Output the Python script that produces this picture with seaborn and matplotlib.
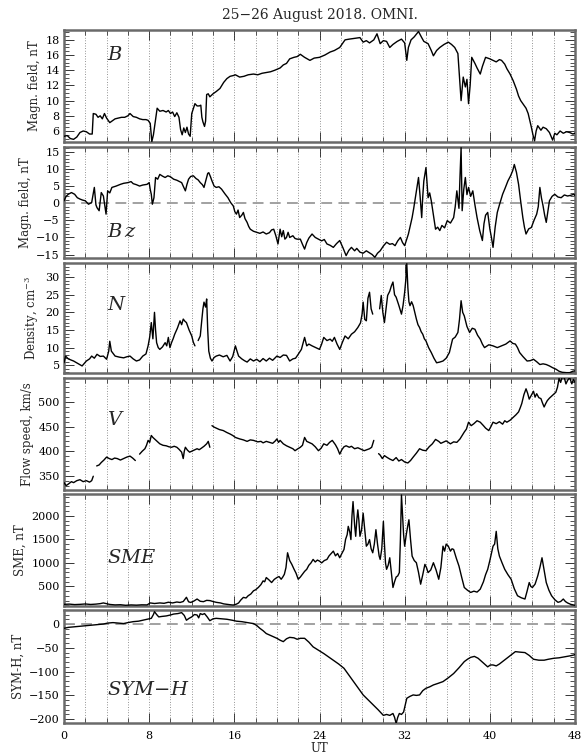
import numpy as np
import pandas as pd
import matplotlib
matplotlib.use("Agg")
import matplotlib.pyplot as plt
import seaborn as sns
from matplotlib.ticker import MultipleLocator

nan = np.nan

# ---------------- data ----------------
b_t = [0.0,0.3,0.6,0.9,1.2,1.5,1.8,2.1,2.4,2.65,2.75,3.0,3.2,3.4,3.6,3.8,4.0,4.3,4.5,4.8,5.1,5.4,5.7,6.0,6.2,6.5,6.8,7.1,7.4,7.7,7.9,8.1,8.25,8.4,8.6,8.75,9.0,9.3,9.6,9.8,10.0,10.2,10.4,10.6,10.8,10.95,11.1,11.25,11.4,11.55,11.7,11.85,12.0,12.3,12.5,12.7,12.85,12.95,13.05,13.2,13.3,13.4,13.55,13.7,14.0,14.3,14.65,15.0,15.3,15.6,15.9,16.1,16.5,16.9,17.3,17.8,18.2,18.6,19.0,19.4,19.8,20.3,20.6,20.9,21.2,21.6,21.9,22.2,22.6,23.1,23.5,24.0,24.5,25.0,25.4,25.9,26.4,26.8,27.3,27.8,28.1,28.4,28.7,29.1,29.4,29.7,30.0,30.3,30.6,30.9,31.3,31.7,32.0,32.2,32.35,32.6,32.9,33.3,33.6,33.8,34.2,34.5,34.7,35.0,35.3,35.7,36.1,36.4,36.7,37.0,37.15,37.3,37.5,37.7,37.85,38.0,38.15,38.3,38.6,38.8,39.1,39.3,39.6,40.0,40.3,40.6,40.9,41.1,41.4,41.6,41.9,42.2,42.5,42.7,42.9,43.1,43.4,43.6,43.9,44.05,44.2,44.35,44.5,44.8,45.0,45.3,45.6,45.9,46.1,46.3,46.6,46.9,47.2,47.5,47.8,48.0]
b_v = [5.3,5.4,5.0,4.9,5.2,5.8,6.0,5.9,5.6,5.6,8.3,8.2,7.8,8.0,7.6,8.3,7.7,7.1,7.3,7.6,7.7,7.8,7.8,8.0,8.3,7.9,7.8,7.6,7.5,7.5,7.4,7.0,4.6,5.5,7.5,9.0,8.6,8.7,8.5,8.7,8.3,8.5,7.9,8.4,7.8,6.2,5.5,6.4,5.8,6.5,5.6,5.3,8.3,9.6,9.3,9.3,9.4,7.8,7.2,6.6,7.3,10.8,10.9,10.5,10.9,11.2,11.6,12.4,12.9,13.2,13.3,13.4,13.1,13.2,13.4,13.5,13.4,13.6,13.7,13.8,14.0,14.3,14.7,14.9,15.5,15.7,15.8,16.1,15.7,15.3,15.6,15.7,16.0,16.4,16.6,17.0,18.0,18.1,18.2,18.3,17.7,17.9,17.6,18.0,18.8,17.5,17.9,17.8,17.0,17.4,17.8,18.1,17.6,15.3,17.0,18.0,18.4,19.1,18.3,17.8,17.5,16.6,15.9,16.6,17.0,17.4,17.7,17.4,17.0,16.2,13.0,10.0,13.1,11.8,12.8,9.6,12.0,15.7,14.9,14.3,13.5,14.5,15.7,15.5,15.3,15.1,15.4,15.3,14.8,14.2,13.5,12.6,11.5,10.6,10.0,9.6,9.0,8.3,6.5,5.5,4.7,6.0,6.7,6.1,6.5,6.3,5.8,4.8,5.7,5.5,6.0,5.7,5.9,5.8,5.6,5.7]

bz_t = [0.0,0.2,0.4,0.7,1.0,1.25,1.5,1.75,2.0,2.3,2.6,2.85,3.0,3.1,3.3,3.5,3.7,3.85,3.95,4.1,4.3,4.5,4.9,5.3,5.6,6.0,6.3,6.5,6.8,7.1,7.4,7.8,8.0,8.1,8.2,8.3,8.45,8.6,8.8,9.0,9.25,9.5,9.75,10.0,10.3,10.6,10.8,11.05,11.2,11.4,11.55,11.7,11.9,12.15,12.4,12.6,12.8,13.0,13.15,13.35,13.5,13.6,13.75,13.9,14.1,14.3,14.55,14.8,15.1,15.4,15.65,15.9,16.05,16.2,16.35,16.5,16.7,16.85,17.0,17.2,17.35,17.5,17.8,18.1,18.4,18.7,19.0,19.3,19.5,19.7,19.9,20.1,20.3,20.45,20.6,20.75,20.9,21.05,21.2,21.5,21.7,21.9,22.2,22.4,22.6,22.8,23.0,23.3,23.6,23.9,24.2,24.45,24.7,25.0,25.3,25.6,25.9,26.2,26.5,26.75,27.0,27.3,27.5,27.8,28.1,28.4,28.7,28.95,29.2,29.45,29.7,30.0,30.3,30.6,30.85,31.1,31.35,31.6,31.8,32.0,32.2,32.35,32.5,32.7,32.85,33.0,33.15,33.3,33.45,33.6,33.7,33.8,33.9,34.0,34.1,34.2,34.35,34.5,34.7,34.9,35.1,35.3,35.5,35.75,36.0,36.3,36.6,36.75,36.9,37.1,37.2,37.3,37.4,37.55,37.7,37.85,38.0,38.2,38.4,38.6,38.8,39.05,39.3,39.45,39.6,39.8,40.0,40.15,40.3,40.5,40.7,40.9,41.2,41.45,41.7,41.95,42.15,42.3,42.5,42.7,42.9,43.1,43.25,43.4,43.65,43.9,44.15,44.4,44.55,44.7,44.85,45.0,45.15,45.3,45.45,45.6,45.85,46.1,46.4,46.7,47.0,47.3,47.6,47.9,48.0]
bz_v = [0.7,2.0,2.6,3.1,2.6,1.6,1.2,0.9,0.7,-0.3,0.2,4.6,-0.5,-1.3,-2.2,3.1,2.1,-1.0,-3.2,3.6,3.0,4.6,5.0,5.5,5.8,6.0,6.3,5.7,5.4,5.0,5.3,5.5,6.0,4.0,2.6,-0.3,1.6,7.5,7.0,8.4,7.9,7.5,8.0,7.7,7.0,6.7,6.4,6.0,5.0,3.6,5.5,7.0,7.8,8.0,7.2,6.8,6.0,5.4,4.6,7.0,8.7,8.9,7.8,6.5,5.0,4.6,4.8,4.1,2.8,1.6,0.2,-0.8,-2.5,-3.2,-2.0,-4.2,-3.5,-2.7,-4.5,-5.6,-6.8,-7.6,-8.2,-8.5,-8.8,-8.4,-9.0,-8.6,-7.8,-7.6,-9.5,-11.9,-7.6,-9.8,-8.0,-10.5,-10.0,-8.5,-10.0,-9.5,-10.3,-10.5,-10.5,-12.0,-13.4,-11.5,-10.2,-9.0,-10.0,-10.5,-11.0,-10.6,-11.9,-12.3,-12.9,-11.8,-10.9,-13.0,-15.3,-13.8,-12.9,-13.9,-13.2,-14.3,-14.6,-13.9,-14.5,-15.0,-15.8,-14.6,-13.9,-12.5,-11.4,-12.0,-11.8,-12.4,-11.0,-10.0,-11.5,-12.4,-10.5,-9.0,-7.0,-4.2,-1.5,1.6,4.5,7.5,2.0,-4.2,2.0,6.5,8.5,10.4,6.0,1.6,3.0,0.7,-3.5,-7.6,-7.0,-8.0,-6.5,-7.2,-5.1,-5.8,-4.2,-1.0,3.6,-1.5,8.0,16.2,-2.2,4.0,7.5,2.5,4.6,2.0,3.6,-0.5,-4.2,-8.0,-10.9,-6.0,-3.5,-2.7,-7.5,-10.0,-12.9,-7.0,-2.7,-0.5,2.6,4.5,6.5,8.0,9.5,11.3,9.0,5.5,0.5,-4.2,-7.0,-9.0,-7.5,-7.1,-5.0,-3.2,-1.0,4.6,1.5,-0.8,-3.5,-5.6,-2.5,0.7,2.0,2.6,1.8,1.6,2.4,2.1,2.3,2.6,2.2]

n_t = [0.0,0.15,0.4,0.9,1.3,1.7,2.1,2.4,2.6,2.85,3.1,3.4,3.7,4.0,4.2,4.3,4.45,4.8,5.2,5.6,5.9,6.2,6.5,6.8,7.1,7.4,7.7,7.9,8.05,8.2,8.35,8.5,8.6,8.7,8.85,9.0,9.25,9.5,9.65,9.8,9.95,10.1,10.25,10.4,10.65,10.9,11.05,11.2,11.35,11.5,11.75,12.0,12.15,12.3,12.45,12.6,12.8,12.95,13.05,13.15,13.3,13.4,13.5,13.6,13.75,13.9,14.1,14.3,14.6,14.95,15.3,15.6,15.85,16.1,16.25,16.4,16.7,16.95,17.2,17.5,17.8,18.1,18.4,18.7,19.0,19.3,19.6,20.0,20.3,20.6,20.9,21.2,21.5,21.75,22.0,22.3,22.6,22.8,23.0,23.3,23.65,24.0,24.2,24.4,24.7,25.0,25.2,25.4,25.65,25.9,26.15,26.4,26.7,27.0,27.3,27.6,27.85,28.0,28.1,28.25,28.4,28.55,28.7,28.85,29.0,29.3,29.65,29.8,29.95,30.1,30.25,30.4,30.6,30.75,30.9,31.05,31.2,31.45,31.7,31.85,32.0,32.1,32.2,32.3,32.4,32.5,32.65,32.8,32.95,33.1,33.25,33.4,33.55,33.7,33.85,34.0,34.25,34.5,34.75,35.0,35.3,35.6,35.9,36.2,36.35,36.5,36.75,37.0,37.15,37.3,37.45,37.6,37.85,38.1,38.35,38.6,38.85,39.1,39.3,39.5,39.9,40.3,40.7,41.1,41.5,41.9,42.15,42.4,42.6,42.8,43.1,43.5,43.8,44.1,44.4,44.7,45.0,45.3,45.6,45.9,46.2,46.5,46.8,47.2,47.5,47.8,48.0]
n_v = [5.7,7.6,6.8,6.2,5.5,4.8,6.2,6.8,7.6,7.0,8.1,7.5,7.6,6.7,9.0,11.8,9.0,7.6,7.3,7.1,7.4,7.6,6.8,6.2,6.5,7.6,8.2,10.5,13.0,17.1,12.5,20.0,15.0,11.4,10.0,9.5,10.2,11.4,10.5,12.9,10.0,11.4,12.5,13.8,15.5,17.6,16.5,18.1,17.5,17.1,15.0,13.3,11.5,10.5,nan,12.0,13.3,18.0,21.0,22.9,21.5,23.8,15.0,9.0,7.0,6.2,7.2,7.6,7.9,7.4,7.8,6.2,7.5,10.5,9.0,7.6,6.8,6.3,5.9,6.8,6.2,6.7,6.0,6.9,6.2,7.0,6.4,7.6,7.2,7.9,7.8,6.2,6.8,7.0,8.1,9.5,12.9,10.5,11.0,10.5,10.0,9.5,11.0,12.9,12.0,12.4,11.8,12.9,11.0,9.5,11.5,13.3,12.5,13.8,14.5,15.7,17.0,19.5,22.9,18.0,17.6,24.0,25.7,21.0,19.5,nan,21.0,24.8,20.0,17.1,21.0,24.8,26.0,27.5,28.6,25.0,24.3,22.0,19.5,22.0,25.7,29.0,33.8,27.0,23.0,21.9,23.0,21.9,20.0,18.1,16.5,15.7,14.5,13.8,12.5,11.9,10.0,8.6,7.0,5.7,5.9,6.2,7.0,8.6,10.5,12.4,13.0,14.3,18.0,23.3,20.0,19.0,16.0,14.3,15.5,15.2,13.5,12.4,11.0,10.0,10.8,10.5,10.0,10.5,11.0,11.9,11.2,11.0,10.0,8.6,7.5,6.2,6.3,6.7,6.0,5.2,5.4,5.2,4.8,4.3,3.9,3.3,3.0,2.9,2.9,3.3,3.4]

v_t = [0.0,0.2,0.4,0.7,0.9,1.2,1.5,1.8,2.1,2.4,2.6,2.75,2.9,3.07,3.3,3.5,3.75,4.0,4.25,4.5,4.75,5.0,5.3,5.6,5.9,6.2,6.45,6.7,6.9,7.1,7.35,7.6,7.75,7.9,8.05,8.2,8.35,8.5,8.75,9.0,9.3,9.6,9.85,10.1,10.35,10.6,10.8,11.05,11.2,11.3,11.4,11.6,11.8,12.1,12.5,12.7,12.9,13.15,13.4,13.55,13.7,13.8,13.9,14.1,14.3,14.6,14.96,15.3,15.6,15.85,16.1,16.5,16.85,17.2,17.5,17.8,18.2,18.5,18.7,19.0,19.3,19.6,19.85,20.0,20.15,20.3,20.6,20.9,21.2,21.5,21.7,21.9,22.2,22.4,22.6,22.8,23.0,23.3,23.6,23.9,24.15,24.4,24.7,24.95,25.2,25.5,25.7,25.9,26.1,26.3,26.5,26.8,27.0,27.3,27.6,27.9,28.2,28.45,28.7,28.9,29.1,29.3,29.55,29.7,29.9,30.1,30.3,30.6,30.9,31.2,31.45,31.7,32.0,32.3,32.55,32.8,33.1,33.4,33.7,34.0,34.3,34.6,34.9,35.2,35.4,35.6,35.9,36.3,36.6,36.9,37.2,37.4,37.6,37.8,38.0,38.25,38.5,38.8,39.1,39.4,39.6,39.9,40.1,40.3,40.6,40.9,41.2,41.4,41.6,41.9,42.2,42.45,42.7,42.85,43.0,43.2,43.4,43.55,43.7,43.9,44.1,44.25,44.4,44.6,44.8,44.95,45.1,45.25,45.4,45.6,45.9,46.2,46.35,46.5,46.65,46.8,47.0,47.15,47.3,47.5,47.7,47.85,48.0]
v_v = [336,330,333,338,336,340,342,338,340,337,340,349,nan,370,372,377,382,388,385,383,386,385,382,385,388,390,386,381,nan,394,400,405,412,422,418,432,428,425,420,415,412,411,409,408,410,408,404,398,385,400,408,402,398,401,405,403,406,410,415,420,408,nan,452,449,447,444,442,438,435,432,428,425,423,420,423,422,419,420,417,420,418,416,421,425,418,422,415,411,408,405,401,404,408,412,428,420,418,415,409,401,406,415,412,418,422,413,405,394,403,409,411,408,410,405,407,404,401,403,405,408,422,nan,395,392,385,391,388,384,381,387,380,383,378,376,381,388,396,405,402,401,409,415,424,420,416,418,421,415,419,418,425,432,439,445,459,452,456,462,459,452,447,442,450,459,456,460,455,462,459,463,469,474,480,488,497,515,527,518,506,514,522,510,517,509,507,498,490,497,503,508,514,520,530,548,540,551,549,537,544,550,537,546,540]

sme_t = [0.0,0.5,1.0,1.5,2.0,2.5,3.0,3.4,3.7,4.0,4.3,4.8,5.3,5.8,6.3,6.8,7.3,7.8,8.1,8.5,9.0,9.4,9.8,10.2,10.6,10.9,11.2,11.5,11.7,11.9,12.2,12.5,12.8,13.1,13.4,13.7,14.0,14.3,14.7,15.0,15.3,15.6,15.9,16.2,16.4,16.6,16.85,17.1,17.3,17.55,17.8,18.0,18.25,18.5,18.7,18.85,19.0,19.25,19.5,19.75,20.0,20.2,20.4,20.55,20.7,20.85,21.0,21.2,21.4,21.6,21.8,22.0,22.2,22.4,22.6,22.8,23.0,23.2,23.4,23.6,23.8,24.0,24.2,24.45,24.7,24.9,25.1,25.3,25.5,25.7,25.9,26.1,26.3,26.45,26.6,26.7,26.85,26.95,27.05,27.15,27.3,27.4,27.5,27.6,27.7,27.8,27.95,28.1,28.25,28.4,28.55,28.7,28.85,29.0,29.15,29.3,29.45,29.6,29.7,29.85,30.0,30.1,30.2,30.3,30.45,30.6,30.75,30.9,31.05,31.2,31.35,31.5,31.6,31.7,31.8,31.9,32.0,32.15,32.3,32.4,32.55,32.7,32.9,33.1,33.3,33.5,33.7,33.9,34.05,34.2,34.45,34.7,34.95,35.2,35.4,35.6,35.75,35.9,36.1,36.3,36.45,36.6,36.85,37.1,37.35,37.6,37.9,38.2,38.5,38.8,39.1,39.4,39.6,39.8,40.0,40.15,40.3,40.45,40.6,40.75,40.9,41.15,41.4,41.7,42.0,42.3,42.6,42.95,43.3,43.5,43.7,43.85,44.0,44.25,44.5,44.7,44.9,45.1,45.3,45.55,45.8,46.1,46.4,46.65,46.9,47.1,47.3,47.6,47.9,48.0]
sme_v = [120,125,115,120,128,118,125,135,150,135,118,108,112,100,108,103,110,108,150,138,150,142,165,150,170,160,180,270,175,160,190,233,185,177,205,200,180,163,150,130,120,112,105,125,150,210,268,255,303,340,408,430,478,540,618,600,689,640,583,650,689,710,653,700,759,900,1215,1050,969,870,780,653,700,760,820,864,950,1000,1074,1020,1060,1039,1000,1050,1074,1150,1200,1250,1150,1200,1109,1200,1285,1500,1600,1776,1650,1495,2000,2302,1800,1565,1900,2126,1900,1565,1700,2056,1700,1355,1400,1495,1300,1215,1400,1705,1400,1150,1074,1300,1881,1400,1000,864,950,1109,800,478,600,700,724,794,1500,2442,2000,1600,1355,1600,1800,1916,1500,1144,1050,1004,800,548,750,969,900,794,850,1004,850,653,900,1355,1250,1400,1355,1250,1300,1285,1100,934,700,478,420,373,400,380,443,600,750,864,1050,1200,1355,1400,1670,1300,1144,1000,864,750,653,450,303,260,233,400,583,500,478,550,724,900,1109,850,583,420,303,220,163,180,233,180,150,120,105,100]

symh_t = [0.0,0.4,0.9,1.3,1.8,2.3,2.75,3.2,3.7,4.1,4.6,5.1,5.6,6.0,6.5,7.0,7.4,7.8,8.2,8.4,8.5,8.7,8.9,9.2,9.6,10.0,10.3,10.7,11.05,11.3,11.5,11.75,12.0,12.25,12.5,12.65,12.8,13.0,13.2,13.45,13.7,14.0,14.3,14.8,15.3,15.8,16.2,16.7,17.2,17.5,17.8,18.1,18.4,18.7,19.0,19.3,19.6,20.0,20.3,20.6,20.9,21.2,21.6,21.9,22.2,22.6,23.0,23.4,23.9,24.4,24.85,25.3,25.8,26.3,26.75,27.2,27.65,28.1,28.6,29.1,29.5,30.0,30.3,30.6,30.9,31.05,31.2,31.35,31.5,31.7,31.9,32.05,32.2,32.5,32.8,33.1,33.4,33.7,34.0,34.35,34.7,35.1,35.6,36.1,36.6,37.1,37.6,37.9,38.2,38.55,38.9,39.3,39.8,40.05,40.3,40.6,40.9,41.25,41.6,42.0,42.4,42.8,43.3,43.7,44.1,44.6,45.1,45.5,46.0,46.5,47.0,47.5,47.9,48.0]
symh_v = [-9,-7,-6,-5,-4,-3,-2,-1,0,2,3,2,1,3,5,6,8,10,12,20,26,20,15,16,17,19,21,22,24,18,8,12,15,20,19,13,22,20,22,15,7,11,12,11,10,8,6,5,3,2,1,-3,-9,-14,-20,-23,-26,-30,-34,-37,-31,-28,-29,-32,-30,-30,-38,-48,-55,-62,-69,-76,-84,-93,-107,-121,-135,-149,-160,-171,-180,-192,-190,-192,-188,-196,-209,-196,-188,-190,-185,-170,-156,-152,-149,-150,-149,-140,-135,-132,-128,-125,-121,-113,-104,-92,-79,-74,-70,-68,-72,-80,-90,-86,-86,-88,-84,-78,-72,-65,-58,-59,-60,-66,-74,-76,-76,-74,-72,-71,-69,-67,-65,-64]

x_ticks = [0, 8, 16, 24, 32, 40, 48]
title_text = "25\u221226 August 2018. OMNI."
y_labels = ["Magn. field, nT", "Magn. field, nT", "Density, cm$^{-3}$",
            "Flow speed, km/s", "SME, nT", "SYM-H, nT"]
panel_names = ["$B$", "$B\\,z$", "$N$", "$V$", "$SME$", "$SYM\\!-\\!H$"]

# ---------------- style ----------------
sns.set_style("white")
plt.rcParams["font.family"] = ["DejaVu Serif"]
plt.rcParams["mathtext.fontset"] = "dejavuserif"

W, H = 581, 756
fig = plt.figure(figsize=(W / 100, H / 100), dpi=100)
L, R = 64, 575
bounds = [(30, 142), (147, 258), (263, 373), (378, 490), (494, 606), (610, 723)]

series = [(b_t, b_v), (bz_t, bz_v), (n_t, n_v), (v_t, v_v), (sme_t, sme_v), (symh_t, symh_v)]
ylims = [(4.55, 19.3), (-16.0, 16.4), (2.8, 34.0), (321, 549), (85, 2463), (-208, 29.5)]
majors = [2, 5, 5, 50, 500, 50]
minors = [0.5, 1, 1, 10, 100, 10]
zero_line = [False, True, False, False, False, True]
name_pos = [(0.085, 0.78), (0.085, 0.23), (0.085, 0.62), (0.085, 0.625), (0.085, 0.43), (0.085, 0.29)]


def frame(t, v):
    df = pd.DataFrame({"t": t, "v": v})
    df["seg"] = df["v"].isna().cumsum()
    return df.dropna()


for i, ((t, v), (top, bot)) in enumerate(zip(series, bounds)):
    ax = fig.add_axes([L / W, 1 - bot / H, (R - L) / W, (bot - top) / H])
    ax.set_xlim(0, 48)
    ax.set_ylim(*ylims[i])
    for h in range(2, 48, 2):
        ax.axvline(h, color="#555555", ls=(0, (1.0, 2.4)), lw=0.55, zorder=1)
    if zero_line[i]:
        ax.axhline(0, color="#9a9a9a", ls=(0, (6, 3.5)), lw=1.3, zorder=1)
    df = frame(t, v)
    sns.lineplot(data=df, x="t", y="v", units="seg", estimator=None, sort=False,
                 color="black", lw=1.0, ax=ax, legend=False, zorder=3)
    ax.set_xlabel("")
    ax.set_ylabel(y_labels[i], fontsize=8.5, labelpad=3)
    ax.xaxis.set_major_locator(MultipleLocator(8))
    ax.xaxis.set_minor_locator(MultipleLocator(2))
    ax.yaxis.set_major_locator(MultipleLocator(majors[i]))
    ax.yaxis.set_minor_locator(MultipleLocator(minors[i]))
    ax.tick_params(which="both", direction="in", left=True, right=True, top=True, bottom=True,
                   labelsize=8, colors="#333333", labelcolor="black")
    ax.tick_params(which="major", length=7, width=0.7, pad=3)
    ax.tick_params(which="minor", length=3.5, width=0.6)
    ax.tick_params(axis="x", pad=6)
    if i < 5:
        ax.tick_params(labelbottom=False)
    else:
        ax.set_xticks(x_ticks)
    for s in ax.spines.values():
        s.set_color("#6a6a6a")
        s.set_linewidth(1.8)
    ax.text(name_pos[i][0], name_pos[i][1], panel_names[i], transform=ax.transAxes,
            fontsize=14, ha="left", va="center")

fig.text(((L + R) / 2) / W, 1 - 15 / H, title_text, ha="center", va="center", fontsize=10)
fig.text(((L + R) / 2) / W, 1 - 749 / H, "UT", ha="center", va="center", fontsize=8.5)

fig.savefig("out.png", dpi=100)
